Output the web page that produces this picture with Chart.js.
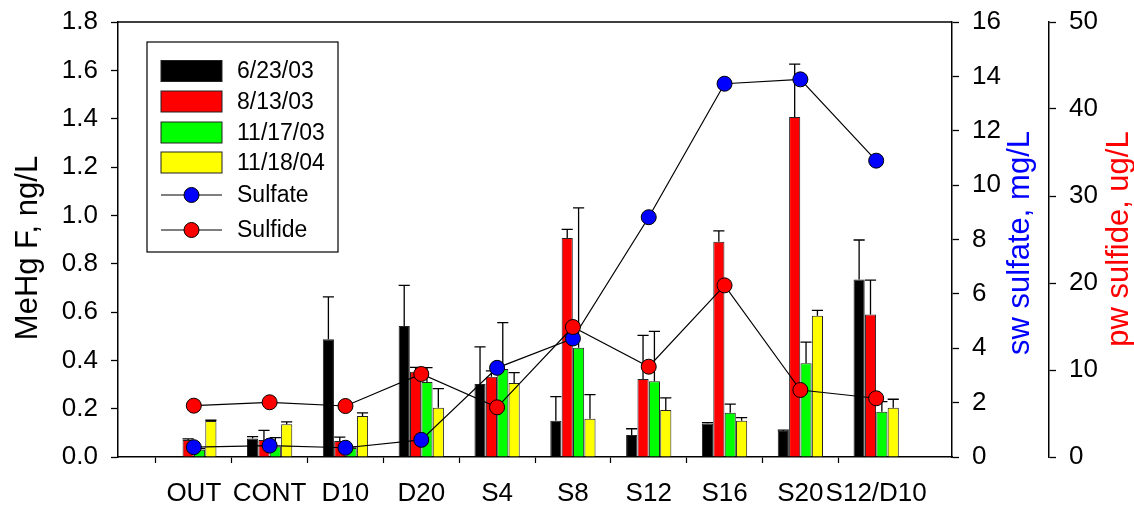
<!DOCTYPE html>
<html>
<head>
<meta charset="utf-8">
<script src="https://cdn.jsdelivr.net/npm/chart.js@4/dist/chart.umd.min.js"></script>
<style>
  html, body { margin: 0; padding: 0; background: #fff; }
  #wrap { width: 1134px; height: 507px; position: relative; }
</style>
</head>
<body>
<div id="wrap"><canvas id="dataChart"></canvas></div>
<script>
  // sites along the x axis
  const categories = ['OUT', 'CONT', 'D10', 'D20', 'S4', 'S8', 'S12', 'S16', 'S20', 'S12/D10'];

  // MeHg F (ng/L) per sampling date, with upper error
  const mehg0623 = [null, 0.077, 0.487, 0.542, 0.302, 0.150, 0.091, 0.139, 0.108, 0.735];
  const err0623  = [null, 0.007, 0.176, 0.168, 0.154, 0.100, 0.026, 0.003, 0.003, 0.163];
  const mehg0813 = [0.070, 0.070, 0.066, 0.353, 0.332, 0.906, 0.323, 0.891, 1.407, 0.590];
  const err0813  = [0.005, 0.040, 0.016, 0.018, 0.024, 0.036, 0.180, 0.045, 0.219, 0.142];
  const mehg1117 = [0.030, 0.043, 0.037, 0.310, 0.364, 0.452, 0.313, 0.183, 0.388, 0.187];
  const err1117  = [0.005, 0.037, 0.005, 0.060, 0.192, 0.579, 0.207, 0.036, 0.087, 0.042];
  const mehg1118 = [0.149, 0.136, 0.170, 0.204, 0.306, 0.158, 0.194, 0.150, 0.585, 0.204];
  const err1118  = [0.003, 0.009, 0.013, 0.079, 0.043, 0.100, 0.051, 0.013, 0.022, 0.035];

  // sw sulfate (mg/L) and pw sulfide (ug/L)
  const sulfate = [0.36, 0.42, 0.34, 0.63, 3.28, 4.36, 8.82, 13.73, 13.89, 10.90];
  const sulfide = [5.90, 6.29, 5.86, 9.54, 5.71, 14.94, 10.38, 19.73, 7.70, 6.75];

  // tick settings
  const mehgTicks    = { min: 0, max: 1.8, step: 0.2 };
  const sulfateTicks = { min: 0, max: 16,  step: 2 };
  const sulfideTicks = { min: 0, max: 50,  step: 10 };

  // empty slot on each end so the sites sit like the original
  const pad = a => [null, ...a, null];
  const labels = ['', ...categories, ''];

  const FONT = "'Liberation Sans', Arial, sans-serif";

  const errorBars = {
    id: 'errorBars',
    afterDatasetDraw(chart, args) {
      const ds = chart.data.datasets[args.index];
      if (!ds.errors) return;
      const y = chart.scales.y;
      const ctx = chart.ctx;
      ctx.save();
      ctx.strokeStyle = '#000';
      ctx.lineWidth = 1.3;
      args.meta.data.forEach((bar, i) => {
        const v = ds.data[i], e = ds.errors[i];
        if (v == null || e == null) return;
        const top = y.getPixelForValue(v + e);
        const half = bar.width / 2;
        ctx.beginPath();
        ctx.moveTo(bar.x, bar.y);
        ctx.lineTo(bar.x, top);
        ctx.moveTo(bar.x - half, top);
        ctx.lineTo(bar.x + half, top);
        ctx.stroke();
      });
      ctx.restore();
    }
  };

  // top frame line, axis titles and the boxed legend
  const decorations = {
    id: 'decorations',
    afterDraw(chart) {
      const ctx = chart.ctx;
      const a = chart.chartArea;
      ctx.save();
      ctx.strokeStyle = '#000';
      ctx.lineWidth = 1.5;
      ctx.beginPath();
      ctx.moveTo(a.left, a.top);
      ctx.lineTo(a.right, a.top);
      ctx.stroke();

      const title = (text, x, y, color) => {
        ctx.save();
        ctx.translate(x, y);
        ctx.rotate(-Math.PI / 2);
        ctx.font = '31px ' + FONT;
        ctx.fillStyle = color;
        ctx.textAlign = 'center';
        ctx.textBaseline = 'middle';
        ctx.fillText(text, 0, 0);
        ctx.restore();
      };
      title('MeHg F, ng/L', 28, 248, '#000');
      title('sw sulfate, mg/L', 1020, 243, '#0000ff');
      title('pw sulfide, ug/L', 1119, 239, '#ff0000');

      // legend
      ctx.lineWidth = 1.2;
      ctx.strokeRect(147, 42, 191, 210);
      const rows = [71, 101.5, 132.5, 162.5, 195, 230];
      ctx.font = '23px ' + FONT;
      ctx.textBaseline = 'middle';
      ctx.textAlign = 'left';
      chart.data.datasets.forEach((ds, i) => {
        const cy = rows[i];
        if (ds.type === 'line') {
          ctx.strokeStyle = '#000';
          ctx.lineWidth = 1.2;
          ctx.beginPath();
          ctx.moveTo(161, cy);
          ctx.lineTo(222, cy);
          ctx.stroke();
          ctx.beginPath();
          ctx.arc(191.5, cy, 7.5, 0, Math.PI * 2);
          ctx.fillStyle = ds.pointBackgroundColor;
          ctx.fill();
          ctx.lineWidth = 1;
          ctx.stroke();
        } else {
          ctx.fillStyle = ds.backgroundColor;
          ctx.fillRect(161, cy - 10.5, 61, 21);
          ctx.strokeStyle = '#222';
          ctx.lineWidth = 1;
          ctx.strokeRect(161, cy - 10.5, 61, 21);
        }
        ctx.fillStyle = '#000';
        ctx.fillText(ds.label, 237, cy + 1);
      });
      ctx.restore();
    }
  };

  const barSet = (label, data, errors, color) => ({
    type: 'bar',
    label: label,
    data: pad(data),
    errors: pad(errors),
    backgroundColor: color,
    borderColor: '#222',
    borderWidth: 1,
    categoryPercentage: 0.6,
    barPercentage: 0.98,
    yAxisID: 'y',
    order: 2
  });

  const lineSet = (label, data, color, axis, order) => ({
    type: 'line',
    label: label,
    data: pad(data),
    borderColor: '#000',
    borderWidth: 1.2,
    pointRadius: 7.5,
    pointBackgroundColor: color,
    pointBorderColor: '#000',
    pointBorderWidth: 1,
    yAxisID: axis,
    order: order
  });

  const sideAxis = (position, t, width, weight, fmt) => ({
    position: position,
    min: t.min,
    max: t.max,
    weight: weight,
    ticks: {
      stepSize: t.step,
      color: '#000',
      padding: 13,
      font: { size: 26, family: FONT },
      callback: fmt
    },
    grid: { drawOnChartArea: false, drawTicks: true, tickLength: 7, tickColor: '#000', tickWidth: 1.3 },
    border: { display: true, color: '#000', width: 1.5 },
    afterFit: s => {
      s.width = width;
      s.paddingTop = 0;
      s.paddingBottom = 0;
    }
  });

  new Chart(document.getElementById('dataChart').getContext('2d'), {
    type: 'bar',
    data: {
      labels: labels,
      datasets: [
        barSet('6/23/03', mehg0623, err0623, '#000000'),
        barSet('8/13/03', mehg0813, err0813, '#ff0000'),
        barSet('11/17/03', mehg1117, err1117, '#00ff00'),
        barSet('11/18/04', mehg1118, err1118, '#ffff00'),
        lineSet('Sulfate', sulfate, '#0000ff', 'y1', 1),
        lineSet('Sulfide', sulfide, '#ff0000', 'y2', 0)
      ]
    },
    options: {
      responsive: true,
      maintainAspectRatio: false,
      animation: false,
      layout: { padding: { top: 22, left: 0, right: 0, bottom: 0 } },
      plugins: {
        legend: { display: false },
        tooltip: { enabled: false }
      },
      scales: {
        x: {
          offset: false,
          ticks: {
            autoSkip: false,
            maxRotation: 0,
            minRotation: 0,
            color: '#000',
            padding: 15,
            font: { size: 26, family: FONT }
          },
          grid: {
            drawOnChartArea: false,
            drawTicks: true,
            tickLength: 6,
            tickWidth: 1.2,
            tickColor: c => (c.index === 0 || c.index === labels.length - 1) ? 'rgba(0,0,0,0)' : '#000'
          },
          border: { display: true, color: '#000', width: 1.5 },
          afterFit: s => {
            s.height = 50;
            s.paddingLeft = 0;
            s.paddingRight = 0;
          }
        },
        y: sideAxis('left', mehgTicks, 118, 0, v => v.toFixed(1)),
        y1: sideAxis('right', sulfateTicks, 97, 0, v => v),
        y2: sideAxis('right', sulfideTicks, 85, 1, v => v)
      }
    },
    plugins: [errorBars, decorations]
  });
</script>
</body>
</html>
